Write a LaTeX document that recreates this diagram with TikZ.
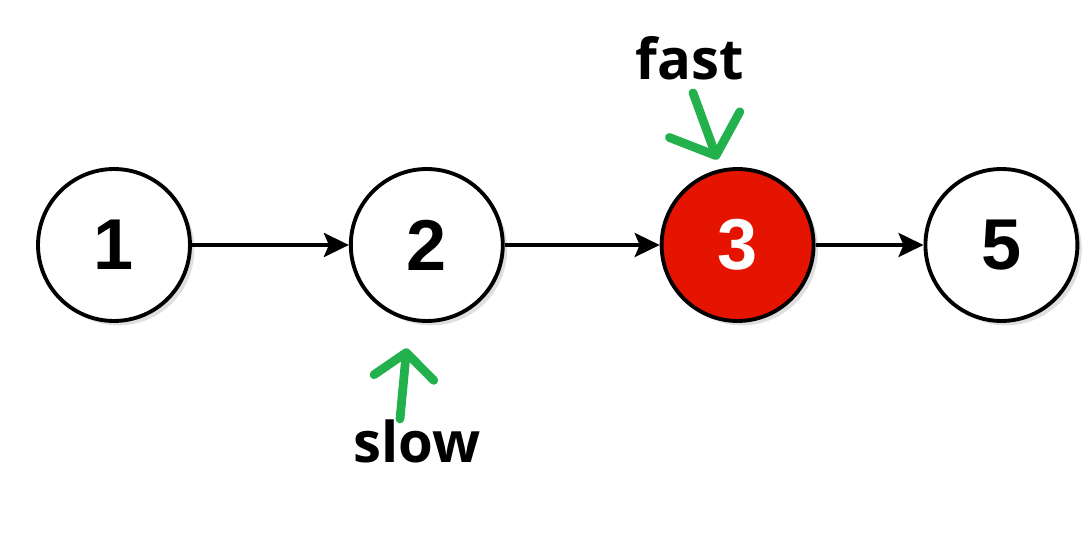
\documentclass[tikz,border=0pt]{standalone}
\usepackage{fontspec}
\setsansfont{Liberation Sans}
\newfontfamily\notefont{Open Sans}
\usetikzlibrary{positioning, arrows.meta, shadows}
\definecolor{listred}{RGB}{229,20,0}
\definecolor{penGreen}{RGB}{34,177,76}

\begin{document}
\begin{tikzpicture}[
    x=0.02cm, y=-0.02cm,
    % --- Styles ---
    listnode/.style={
        circle,
        draw=black,
        fill=white,
        line width=2.2pt,
        minimum size=3.04cm,
        font=\sffamily\bfseries\fontsize{41}{41}\selectfont,
        drop shadow={shadow xshift=2.5pt, shadow yshift=-2.5pt, opacity=0.25}
    },
    hitnode/.style={
        listnode,
        fill=listred,
        text=white
    },
    note/.style={
        inner sep=0pt,
        anchor=base,
        font=\notefont\bfseries\fontsize{32}{32}\selectfont
    },
    arrow/.style={
        -{Stealth[length=0.5cm, width=0.48cm, inset=0.1cm]},
        line width=2.2pt
    },
    pointer/.style={
        -{Straight Barb[length=0.5cm, width=1.2cm, round]},
        draw=penGreen,
        line width=5pt,
        line cap=round
    }
]
\useasboundingbox (0,0) rectangle (1085,550);

% --- Nodes (relative positioning) ---
\node[listnode] (n1) at (114,245) {1};
\node[listnode, right=3.14cm of n1] (n2) {2};
\node[hitnode, right=3.1cm of n2] (n3) {3};
\node[listnode, right=2.16cm of n3] (n5) {5};

\node[note] (fast) at (690,80) {fast};
\node[note] (slow) at (417,462) {slow};

% --- Arrows ---
\draw[arrow] (n1) -- (n2);
\draw[arrow] (n2) -- (n3);
\draw[arrow] (n3) -- (n5);

% --- Pointers ---
\draw[pointer, -{Straight Barb[length=0.66cm, width=1.5cm, round]}]
    ([xshift=0.06cm, yshift=-0.24cm]fast.south) -- ([yshift=0.2cm]n3.105);
\draw[pointer] ([xshift=-0.34cm]slow.north) -- ([yshift=-0.56cm]n2.255);
\end{tikzpicture}
\end{document}
